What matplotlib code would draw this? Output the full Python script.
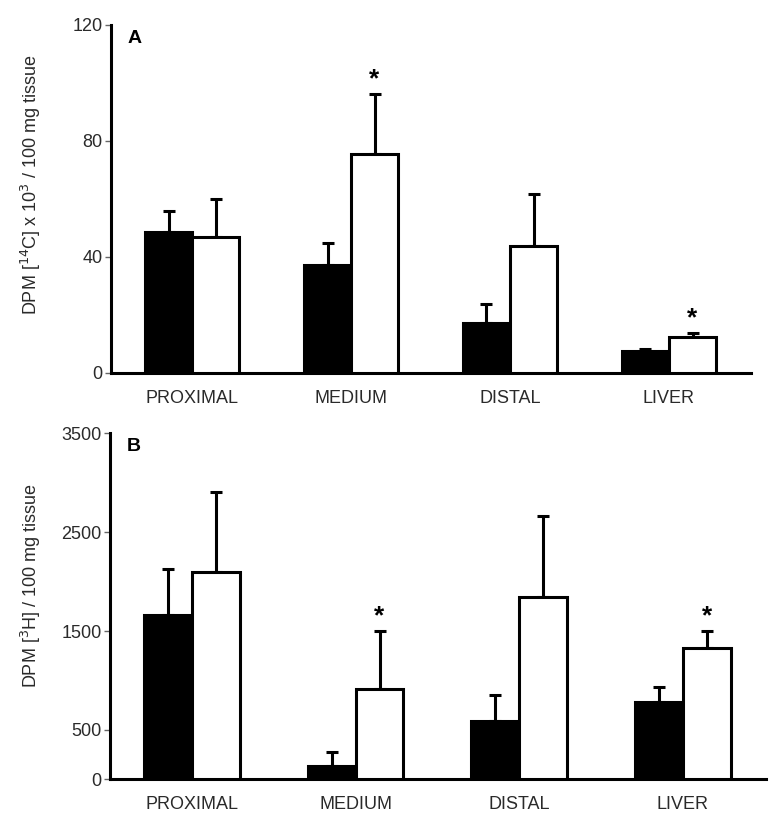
import numpy as np
import matplotlib
matplotlib.use("Agg")
import matplotlib.pyplot as plt

plt.rcParams['font.family'] = ['Liberation Sans', 'DejaVu Sans']

sites = ["PROXIMAL", "MEDIUM", "DISTAL", "LIVER"]

# panel A: DPM [14C] x 10^3 / 100 mg tissue
a_black = [48.7, 37.2, 17.3, 7.7]
a_black_err = [7.2, 7.7, 6.4, 0.6]
a_white = [46.8, 75.5, 43.8, 12.3]
a_white_err = [13.2, 20.6, 17.9, 1.6]
a_ticks = [0, 40, 80, 120]

# panel B: DPM [3H] / 100 mg tissue
b_black = [1661, 134, 590, 782]
b_black_err = [462, 145, 265, 154]
b_white = [2099, 913, 1846, 1324]
b_white_err = [809, 590, 816, 176]
b_ticks = [0, 500, 1500, 2500, 3500]

# which white bars get a significance star
stars = [False, True, False, True]


def draw_panel(ax, black, black_err, white, white_err, ticks, ylabel, letter,
               width, xlim, label_xy):
    x = np.arange(len(sites))
    lw = 2.2
    zeros = np.zeros(len(sites))
    ax.bar(x - width / 2, black, width, color="black", edgecolor="black",
           linewidth=lw, zorder=3)
    ax.bar(x + width / 2, white, width, color="white", edgecolor="black",
           linewidth=lw, zorder=3)
    ax.errorbar(x - width / 2, black, yerr=[zeros, black_err], fmt="none",
                ecolor="black", elinewidth=lw, capsize=4, capthick=lw, zorder=2)
    ax.errorbar(x + width / 2, white, yerr=[zeros, white_err], fmt="none",
                ecolor="black", elinewidth=lw, capsize=4, capthick=lw, zorder=2)

    for i, s in enumerate(stars):
        if s:
            ax.annotate("*", (x[i] + width / 2, white[i] + white_err[i]),
                        xytext=(0, 2), textcoords="offset points",
                        ha="center", va="bottom", fontsize=19, fontweight="bold")

    ax.set_xlim(*xlim)
    ax.set_ylim(ticks[0], ticks[-1])
    ax.set_yticks(ticks)
    ax.set_xticks(x)
    ax.set_xticklabels(sites, fontsize=13, color="#2a2a2a")
    ax.tick_params(axis="x", length=0, pad=12)
    ax.tick_params(axis="y", length=4, width=1, color="#666666", labelsize=13,
                   labelcolor="#2a2a2a", pad=2)
    for side in ("top", "right"):
        ax.spines[side].set_visible(False)
    for side in ("left", "bottom"):
        ax.spines[side].set_linewidth(2.2)
    ax.set_ylabel(ylabel, fontsize=13, color="#2a2a2a")
    ax.yaxis.set_label_coords(*label_xy)
    ax.text(0.025, 0.985, letter, transform=ax.transAxes, fontsize=14,
            fontweight="bold", va="top", ha="left")


fig = plt.figure(figsize=(7.78, 8.32), dpi=100)
ax_a = fig.add_axes([0.1427, 0.5517, 0.8226, 0.4183])
ax_b = fig.add_axes([0.1414, 0.0633, 0.8430, 0.4159])

draw_panel(ax_a, a_black, a_black_err, a_white, a_white_err, a_ticks,
           r"DPM [$^{14}$C] x 10$^{3}$ / 100 mg tissue", "A", 0.296,
           (-0.51, 3.516), (-0.107, 0.54))
draw_panel(ax_b, b_black, b_black_err, b_white, b_white_err, b_ticks,
           r"DPM [$^{3}$H] / 100 mg tissue", "B", 0.293,
           (-0.50, 3.507), (-0.102, 0.56))

fig.savefig("out.png", dpi=100)
